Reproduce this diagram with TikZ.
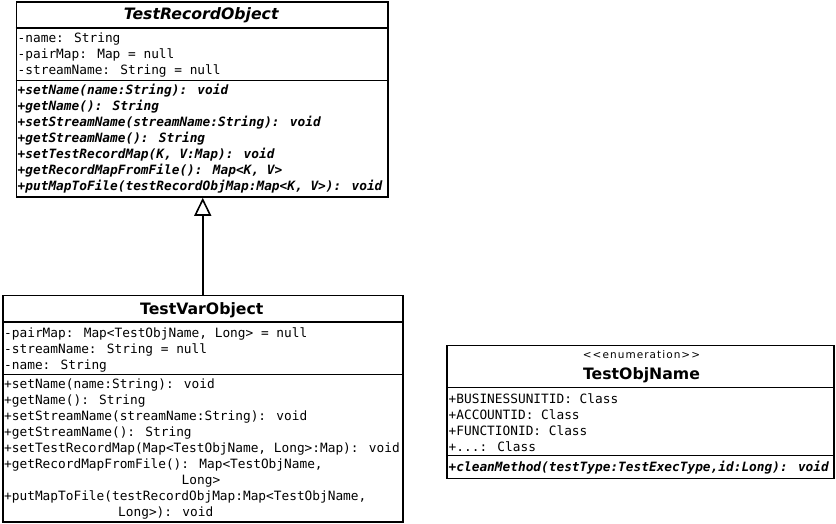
\documentclass[tikz,border=0pt]{standalone}
\usepackage{fontspec}
\setmainfont{DejaVu Sans}
\newfontfamily\monof{DejaVu Sans Mono}
\newfontfamily\stereof[LetterSpace=10]{DejaVu Sans}
\usetikzlibrary{arrows.meta}
\begin{document}
\begin{tikzpicture}[x=1pt,y=-1pt,
  box/.style={draw, line width=1.8pt, inner sep=0pt, anchor=north west},
  sep/.style={line width=1.8pt},
  mem/.style={anchor=base west, inner sep=0pt, font=\monof\fontsize{12.8}{16}\selectfont},
  meth/.style={anchor=base west, inner sep=0pt, font=\monof\fontsize{12.8}{16}\selectfont\bfseries\itshape},
  ttl/.style={anchor=base, inner sep=0pt, font=\fontsize{15.7}{18}\selectfont\bfseries},
  ttli/.style={ttl, font=\fontsize{15.7}{18}\selectfont\bfseries\itshape},
  stereo/.style={anchor=base, inner sep=0pt, font=\stereof\fontsize{10.5}{12}\selectfont},
  inherit/.style={line width=1.8pt, -{Triangle[open, length=18pt, width=17pt, line width=1.6pt]}}]
\useasboundingbox[fill=white] (0,0) rectangle (836,524);

% ---- TestRecordObject
\node[box, minimum width=371.5pt, minimum height=195pt] (rec) at (15.5,1) {};
\draw[sep] (rec.west |- 0,28.3) -- (rec.east |- 0,28.3);
\draw[sep] (rec.west |- 0,80.5) -- (rec.east |- 0,80.5);
\node[ttli] (recT) at (201.2,20) {TestRecordObject};
\node[mem] (recA1) at (17.5,43) {-name: String};
\node[mem] (recA2) at (17.5,59) {-pairMap: Map = null};
\node[mem] (recA3) at (17.5,75) {-streamName: String = null};
\node[meth] (recM1) at (17.5,95) {+setName(name:String): void};
\node[meth] (recM2) at (17.5,111) {+getName(): String};
\node[meth] (recM3) at (17.5,127) {+setStreamName(streamName:String): void};
\node[meth] (recM4) at (17.5,143) {+getStreamName(): String};
\node[meth] (recM5) at (17.5,159) {+setTestRecordMap(K, V:Map): void};
\node[meth] (recM6) at (17.5,175) {+getRecordMapFromFile(): Map<K, V>};
\node[meth] (recM7) at (17.5,191) {+putMapToFile(testRecordObjMap:Map<K, V>): void};

% ---- TestVarObject
\node[box, minimum width=399.7pt, minimum height=226.5pt] (var) at (2,294.5) {};
\draw[sep] (var.west |- 0,322) -- (var.east |- 0,322);
\draw[sep] (var.west |- 0,374.5) -- (var.east |- 0,374.5);
\node[ttl] (varT) at (201.8,314) {TestVarObject};
\node[mem] (varA1) at (4,337) {-pairMap: Map<TestObjName, Long> = null};
\node[mem] (varA2) at (4,353) {-streamName: String = null};
\node[mem] (varA3) at (4,369) {-name: String};
\node[mem] (varM1) at (4,388) {+setName(name:String): void};
\node[mem] (varM2) at (4,404) {+getName(): String};
\node[mem] (varM3) at (4,420) {+setStreamName(streamName:String): void};
\node[mem] (varM4) at (4,436) {+getStreamName(): String};
\node[mem] (varM5) at (4,452) {+setTestRecordMap(Map<TestObjName, Long>:Map): void};
\node[mem] (varM6) at (4,468) {+getRecordMapFromFile(): Map<TestObjName,};
\node[mem] (varM6b) at (181.5,484) {Long>};
\node[mem] (varM7) at (4,500) {+putMapToFile(testRecordObjMap:Map<TestObjName,};
\node[mem] (varM7b) at (118,516) {Long>): void};

% ---- TestObjName
\node[box, minimum width=386.5pt, minimum height=133pt] (enm) at (446.3,344.5) {};
\draw[sep] (enm.west |- 0,387.5) -- (enm.east |- 0,387.5);
\draw[sep] (enm.west |- 0,455.5) -- (enm.east |- 0,455.5);
\node[stereo] (enmS) at (641.5,358) {<<enumeration>>};
\node[ttl] (enmT) at (641.5,379) {TestObjName};
\node[mem] (enmA1) at (448.5,403) {+BUSINESSUNITID: Class};
\node[mem] (enmA2) at (448.5,419) {+ACCOUNTID: Class};
\node[mem] (enmA3) at (448.5,435) {+FUNCTIONID: Class};
\node[mem] (enmA4) at (448.5,451) {+...: Class};
\node[meth] (enmM1) at (448.5,471) {+cleanMethod(testType:TestExecType,id:Long): void};

% ---- generalization
\draw[inherit] (var.north) -- (var.north |- rec.south);
\end{tikzpicture}
\end{document}
